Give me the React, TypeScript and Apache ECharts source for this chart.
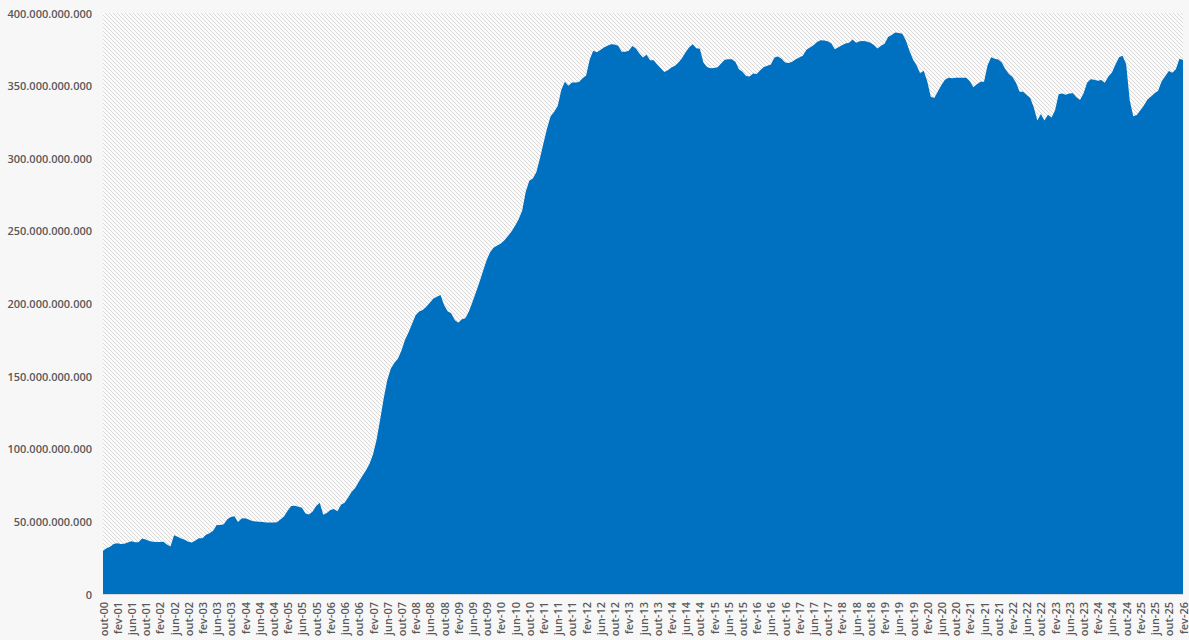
import React, { useEffect, useRef } from "react";
import * as echarts from "echarts";

// Monthly balance, out/2000 .. fev/2026, in billions
const startYear = 2000;
const startMonth = 9; // October (0 = January)
const monthAbbr = ["jan", "fev", "mar", "abr", "mai", "jun", "jul", "ago", "set", "out", "nov", "dez"];

const valuesBillions: number[] = [
  // 2000-10 .. 2001
  29.8, 31.5, 32.5, 34.5, 35.0, 34.4, 34.6, 35.5, 36.3, 35.6, 35.7, 38.2, 37.6, 36.5, 35.9,
  // 2002
  35.8, 35.8, 36.0, 34.0, 32.7, 40.5, 39.5, 38.2, 37.3, 36.0, 35.5, 36.8,
  // 2003
  38.3, 38.3, 40.8, 41.8, 43.5, 47.5, 47.5, 48.0, 51.5, 53.0, 53.6, 49.5,
  // 2004
  52.0, 52.2, 51.3, 50.3, 50.0, 49.7, 49.5, 49.2, 49.2, 49.3, 49.4, 51.5,
  // 2005
  53.5, 57.5, 60.5, 60.7, 60.0, 59.4, 55.5, 54.8, 56.8, 60.5, 62.9, 54.5,
  // 2006
  55.8, 57.8, 58.5, 57.0, 61.5, 62.9, 66.5, 70.4, 73.0, 77.3, 81.2, 85.0,
  // 2007
  89.5, 96.0, 106.0, 119.8, 134.5, 147.0, 155.0, 159.0, 162.0, 167.5, 174.9, 180.0,
  // 2008
  186.0, 191.9, 194.5, 195.5, 197.8, 200.5, 203.5, 204.7, 205.8, 199.0, 194.7, 193.3,
  // 2009
  188.6, 186.8, 189.1, 189.8, 194.5, 201.0, 208.0, 215.0, 222.5, 230.0, 235.5, 238.5,
  // 2010
  240.0, 241.3, 243.5, 246.5, 249.5, 253.5, 258.0, 264.0, 277.0, 284.5, 286.0, 290.5,
  // 2011
  300.0, 310.5, 320.5, 329.0, 332.0, 336.0, 347.0, 352.7, 350.0, 352.1, 352.1, 352.5,
  // 2012
  355.0, 357.0, 368.0, 374.0, 373.0, 374.5, 376.3, 377.5, 378.5, 378.3, 377.5, 373.4,
  // 2013
  373.4, 374.0, 377.2, 375.5, 372.2, 369.4, 371.3, 367.5, 367.5, 364.5, 362.0, 359.3,
  // 2014
  360.5, 362.5, 363.7, 366.0, 369.0, 373.0, 376.5, 378.5, 375.7, 375.4, 366.0, 362.8,
  // 2015
  362.0, 362.2, 362.6, 365.3, 367.8, 368.1, 368.1, 366.5, 361.2, 359.5, 356.6, 356.3,
  // 2016
  358.3, 358.0, 360.5, 362.8, 363.7, 364.5, 369.3, 370.0, 368.5, 366.0, 365.5, 366.5,
  // 2017
  368.1, 369.3, 370.6, 374.7, 376.3, 377.8, 380.0, 381.2, 381.0, 380.6, 379.0, 375.0,
  // 2018
  376.4, 377.8, 379.0, 379.6, 381.8, 379.6, 380.5, 380.7, 380.3, 379.6, 378.0, 375.5,
  // 2019
  377.5, 378.8, 383.5, 384.8, 386.5, 386.3, 385.7, 381.0, 374.0, 368.0, 364.0, 358.5,
  // 2020
  360.2, 353.0, 342.4, 341.5, 346.0, 350.5, 354.0, 355.5, 355.0, 355.4, 355.5, 355.5,
  // 2021
  355.5, 353.0, 348.8, 351.0, 352.6, 352.7, 364.0, 369.5, 368.5, 368.0, 366.0, 361.2,
  // 2022
  358.0, 356.0, 352.0, 345.8, 345.8, 343.5, 341.5, 335.0, 326.0, 330.5, 326.0, 330.0,
  // 2023
  328.0, 333.0, 344.0, 344.5, 343.7, 344.5, 344.8, 342.0, 340.1, 344.5, 352.0, 354.4,
  // 2024
  354.0, 353.3, 353.8, 352.0, 356.3, 359.0, 364.5, 369.5, 370.5, 364.8, 340.0, 329.0,
  // 2025
  329.8, 333.0, 336.3, 340.5, 342.5, 344.7, 346.5, 353.0, 356.5, 360.0, 358.8, 361.3,
  // 2026
  368.5, 367.7,
];

const monthLabels: string[] = valuesBillions.map((_, i) => {
  const m = (startMonth + i) % 12;
  const y = startYear + Math.floor((startMonth + i) / 12);
  return `${monthAbbr[m]}-${String(y % 100).padStart(2, "0")}`;
});

const yMax = 400e9;
const yStep = 50e9;

function formatThousands(v: number): string {
  const s = Math.round(v).toString();
  return s.replace(/\B(?=(\d{3})+(?!\d))/g, ".");
}

// small diagonal-stripe tile for the plot background
const hatchTile =
  "data:image/svg+xml;charset=utf-8," +
  encodeURIComponent(
    '<svg xmlns="http://www.w3.org/2000/svg" width="4" height="4">' +
      '<rect width="4" height="4" fill="#fbfbfb"/>' +
      '<path d="M-1,-1 L5,5 M-1,3 L1,5 M3,-1 L5,1" stroke="#d8d8d8" stroke-width="1"/>' +
      "</svg>"
  );

export default function App() {
  const ref = useRef<HTMLDivElement>(null);

  useEffect(() => {
    if (!ref.current) return;
    const chart = echarts.init(ref.current, undefined, { renderer: "svg" });
    const labelFont = {
      color: "#595959",
      fontFamily: "'Open Sans', 'Noto Sans', sans-serif",
      fontWeight: 600 as const,
      fontSize: 11,
    };
    chart.setOption({
      animation: false,
      backgroundColor: "#f7f7f7",
      grid: {
        left: 103,
        right: 6,
        top: 13,
        bottom: 46,
        show: true,
        borderWidth: 0,
        backgroundColor: { image: hatchTile, repeat: "repeat" },
      },
      xAxis: {
        type: "category",
        data: monthLabels,
        boundaryGap: false,
        axisLine: { show: true, lineStyle: { color: "#d9d9d9", width: 1 } },
        axisTick: { show: false },
        axisLabel: {
          ...labelFont,
          interval: 3,
          rotate: 90,
          margin: 8,
        },
        splitLine: { show: false },
      },
      yAxis: {
        type: "value",
        min: 0,
        max: yMax,
        interval: yStep,
        axisLine: { show: false },
        axisTick: { show: false },
        splitLine: { show: false },
        axisLabel: {
          ...labelFont,
          margin: 11,
          formatter: (v: number) => formatThousands(v),
        },
      },
      series: [
        {
          type: "line",
          data: valuesBillions.map((v) => v * 1e9),
          symbol: "none",
          lineStyle: { width: 0 },
          areaStyle: { color: "#0070C0", opacity: 1 },
          itemStyle: { color: "#0070C0" },
        },
      ],
    });
    return () => chart.dispose();
  }, []);

  return (
    <div
      ref={ref}
      style={{ position: "fixed", left: 0, top: 0, width: 1189, height: 640 }}
    />
  );
}
